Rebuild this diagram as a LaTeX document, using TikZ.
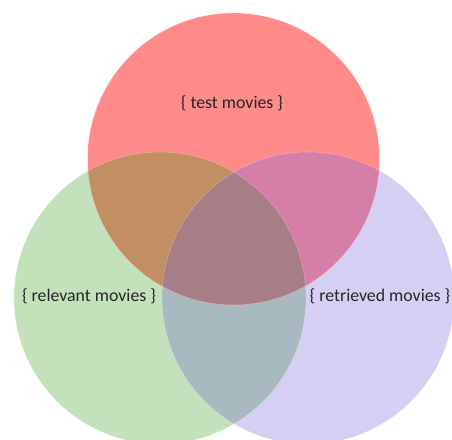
\documentclass[tikz,border=0pt]{standalone}
\usepackage{fontspec}
\setmainfont{Carlito}
\definecolor{setA}{HTML}{FF8A8A}
\definecolor{setB}{HTML}{C3E2BC}
\definecolor{setC}{HTML}{D5CFF3}
\definecolor{setAB}{HTML}{C28F63}
\definecolor{setAC}{HTML}{D47EA8}
\definecolor{setBC}{HTML}{A8BAC0}
\definecolor{setABC}{HTML}{A87E86}
\definecolor{labelgray}{HTML}{262626}
\begin{document}
\begin{tikzpicture}[x=1pt,y=-1pt,
  setlabel/.style={text=labelgray,font=\fontsize{17.8}{20}\selectfont,inner sep=0pt}]
\useasboundingbox (0,0) rectangle (452,439);
\clip (0,0) rectangle (452,439);
\def\rad{146}
\coordinate (ca) at (233.5,159);
\coordinate (cb) at (160,298);
\coordinate (cc) at (308,298);
% single sets
\fill[setB] (cb) circle (\rad);
\fill[setC] (cc) circle (\rad);
\fill[setA] (ca) circle (\rad);
% pairwise overlaps
\begin{scope}
  \clip (cb) circle (\rad);
  \fill[setBC] (cc) circle (\rad);
\end{scope}
\begin{scope}
  \clip (ca) circle (\rad);
  \fill[setAB] (cb) circle (\rad);
\end{scope}
\begin{scope}
  \clip (ca) circle (\rad);
  \fill[setAC] (cc) circle (\rad);
\end{scope}
% triple overlap
\begin{scope}
  \clip (ca) circle (\rad);
  \clip (cb) circle (\rad);
  \fill[setABC] (cc) circle (\rad);
\end{scope}
% soft rims
\draw[white,opacity=0.35,line width=0.6pt] (ca) circle (\rad);
\draw[white,opacity=0.25,line width=0.6pt] (cb) circle (\rad);
\draw[white,opacity=0.25,line width=0.6pt] (cc) circle (\rad);
% labels
\node[setlabel] (la) at (232,103) {\{ test movies \}};
\node[setlabel] (lb) at (89,296) {\{ relevant movies \}};
\node[setlabel] (lc) at (380,296) {\{ retrieved movies \}};
\end{tikzpicture}
\end{document}
